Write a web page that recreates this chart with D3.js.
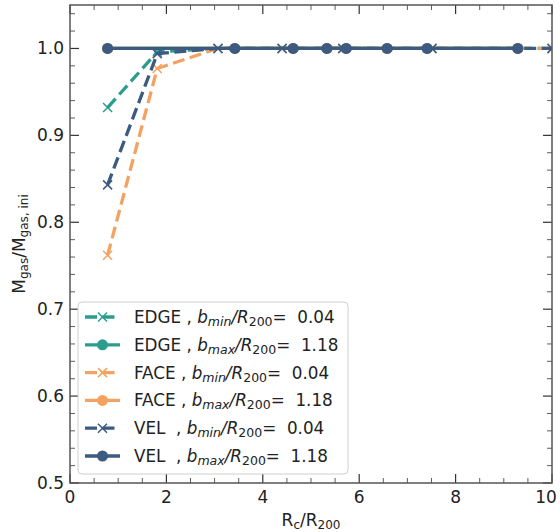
<!DOCTYPE html>
<html><head><meta charset="utf-8">
<script src="https://cdn.jsdelivr.net/npm/d3@7"></script>
<style>
body{margin:0;background:#fff;}
text{font-family:"DejaVu Sans",sans-serif;fill:#222;white-space:pre;}
</style></head>
<body><svg id="c" width="560" height="532"></svg>
<script>
// ---- data ----
const xMin = [0.78, 1.81, 3.07, 4.40, 5.66, 7.51, 10.0];
const xMax = [0.78, 3.42, 4.63, 5.33, 5.73, 6.58, 7.41, 9.29];
const edgeMin = [0.932, 0.996, 1.0, 1.0, 1.0, 1.0, 1.0];
const edgeMax = [1.0, 1.0, 1.0, 1.0, 1.0, 1.0, 1.0, 1.0];
const faceMin = [0.762, 0.977, 1.0, 1.0, 1.0, 1.0, 1.0];
const faceMax = [1.0, 1.0, 1.0, 1.0, 1.0, 1.0, 1.0, 1.0];
const velMin = [0.843, 0.994, 1.0, 1.0, 1.0, 1.0, 1.0];
const velMax = [1.0, 1.0, 1.0, 1.0, 1.0, 1.0, 1.0, 1.0];
const labels = ["EDGE", "EDGE", "FACE", "FACE", "VEL ", "VEL "];
const bValues = ["0.04", "1.18"];
const xTicks = [0, 2, 4, 6, 8, 10];
const yTicks = [0.5, 0.6, 0.7, 0.8, 0.9, 1.0];

const colors = {EDGE:"#2a9d8f", FACE:"#f4a261", VEL:"#3d5a80"};
const series = [
  {name:"EDGE", kind:"min", xs:xMin, ys:edgeMin},
  {name:"EDGE", kind:"max", xs:xMax, ys:edgeMax},
  {name:"FACE", kind:"min", xs:xMin, ys:faceMin},
  {name:"FACE", kind:"max", xs:xMax, ys:faceMax},
  {name:"VEL", kind:"min", xs:xMin, ys:velMin},
  {name:"VEL", kind:"max", xs:xMax, ys:velMax},
];

const L=70, R=552, T=5, B=483;
const x = d3.scaleLinear().domain([0,10]).range([L,R]);
const y = d3.scaleLinear().domain([0.5,1.05]).range([B,T]);
const svg = d3.select("#c");

svg.append("defs").append("clipPath").attr("id","clip")
  .append("rect").attr("x",L).attr("y",T).attr("width",R-L).attr("height",B-T);

// ticks
const tickCol="#333";
const g = svg.append("g");
const xMinor = d3.range(0,10.01,0.5), yMinor = d3.range(0.5,1.051,0.02);
xMinor.forEach(v=>{
  const major = Math.abs(v/2-Math.round(v/2))<1e-6;
  const len = major?9:5;
  g.append("line").attr("x1",x(v)).attr("x2",x(v)).attr("y1",B).attr("y2",B-len).attr("stroke",tickCol).attr("stroke-width",major?1.2:0.8);
  g.append("line").attr("x1",x(v)).attr("x2",x(v)).attr("y1",T).attr("y2",T+len).attr("stroke",tickCol).attr("stroke-width",major?1.2:0.8);
});
yMinor.forEach(v=>{
  const major = Math.abs(v*10-Math.round(v*10))<1e-6;
  const len = major?9:5;
  g.append("line").attr("x1",L).attr("x2",L+len).attr("y1",y(v)).attr("y2",y(v)).attr("stroke",tickCol).attr("stroke-width",major?1.2:0.8);
  g.append("line").attr("x1",R).attr("x2",R-len).attr("y1",y(v)).attr("y2",y(v)).attr("stroke",tickCol).attr("stroke-width",major?1.2:0.8);
});
xTicks.forEach(v=>{
  g.append("text").attr("x",Math.min(x(v),546)).attr("y",B+20).attr("text-anchor","middle").attr("font-size",17).text(v);
});
yTicks.forEach(v=>{
  g.append("text").attr("x",L-6).attr("y",y(v)+6).attr("text-anchor","end").attr("font-size",17).text(v.toFixed(1));
});

// lines
const plot = svg.append("g").attr("clip-path","url(#clip)");
function xMarker(sel, cx, cy, col, s){
  sel.append("path").attr("d",`M${cx-s},${cy-s}L${cx+s},${cy+s}M${cx-s},${cy+s}L${cx+s},${cy-s}`)
    .attr("stroke",col).attr("stroke-width",1.5).attr("fill","none");
}
series.forEach(s=>{
  const col = colors[s.name];
  const pts = s.xs.map((v,i)=>[x(v), y(s.ys[i])]);
  plot.append("path").attr("d", d3.line()(pts)).attr("fill","none").attr("stroke",col)
    .attr("stroke-width",3.3).attr("stroke-dasharray", s.kind==="min"?"12,5.5":null);
  pts.forEach(p=>{
    if(s.kind==="min") xMarker(plot,p[0],p[1],col,4.5);
    else plot.append("circle").attr("cx",p[0]).attr("cy",p[1]).attr("r",5.5).attr("fill",col);
  });
});

// spines
svg.append("rect").attr("x",L).attr("y",T).attr("width",R-L).attr("height",B-T)
  .attr("fill","none").attr("stroke","#555").attr("stroke-width",1.5);

// axis labels
const xl = svg.append("text").attr("x",(L+R)/2).attr("y",526).attr("text-anchor","middle").attr("font-size",17);
xl.append("tspan").text("R");
xl.append("tspan").attr("font-size",12).attr("dy",3).text("c");
xl.append("tspan").attr("dy",-3).text("/R");
xl.append("tspan").attr("font-size",12).attr("dy",3).text("200");
const yl = svg.append("text").attr("transform",`translate(25,${(T+B)/2}) rotate(-90)`).attr("text-anchor","middle").attr("font-size",17);
yl.append("tspan").text("M");
yl.append("tspan").attr("font-size",12).attr("dy",3).text("gas");
yl.append("tspan").attr("dy",-3).text("/M");
yl.append("tspan").attr("font-size",12).attr("dy",3).text("gas, ini");

// legend
const lg = svg.append("g");
lg.append("rect").attr("x",78).attr("y",302).attr("width",270).attr("height",172).attr("rx",4)
  .attr("fill","#fff").attr("fill-opacity",0.85).attr("stroke","#d0d0d0").attr("stroke-width",1);
series.forEach((s,i)=>{
  const cy = 317 + i*27.8;
  const col = colors[s.name];
  lg.append("line").attr("x1",85).attr("x2",120).attr("y1",cy).attr("y2",cy).attr("stroke",col)
    .attr("stroke-width",3.3).attr("stroke-dasharray", s.kind==="min"?"12,5.5":null);
  if(s.kind==="min") xMarker(lg,102.5,cy,col,4.5);
  else lg.append("circle").attr("cx",102.5).attr("cy",cy).attr("r",5.5).attr("fill",col);
  const t = lg.append("text").attr("x",134).attr("y",cy+6).attr("font-size",16.8);
  t.append("tspan").text(labels[i]+" , ");
  t.append("tspan").attr("font-style","italic").text("b");
  t.append("tspan").attr("font-style","italic").attr("font-size",12.5).attr("dy",3).text(s.kind);
  t.append("tspan").attr("font-style","italic").attr("dy",-3).text("/R");
  t.append("tspan").attr("font-size",12.5).attr("dy",3).text("200");
  t.append("tspan").attr("dy",-3).text("=  "+bValues[s.kind==="min"?0:1]);
});
</script></body></html>
